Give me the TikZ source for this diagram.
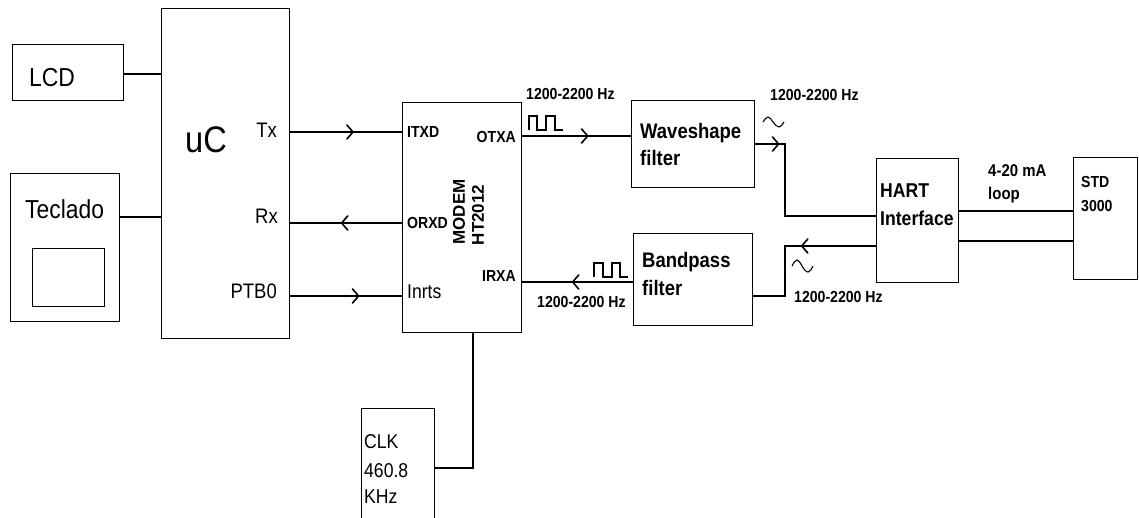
\documentclass[tikz,border=0pt]{standalone}
\usepackage{fontspec}
\setmainfont{Liberation Sans}
\newfontfamily\nf[FakeStretch=0.88]{Liberation Sans}
\usetikzlibrary{arrows.meta,decorations.markings,calc}
\newcommand{\fsz}[1]{\fontsize{#1}{#1}\selectfont}
\begin{document}
\begin{tikzpicture}[x=1pt,y=-1pt,
  box/.style={draw, line width=1.4pt, inner sep=0pt, anchor=north west},
  lbl/.style={inner sep=0pt, anchor=base west, font=\nf},
  lble/.style={inner sep=0pt, anchor=base east, font=\nf},
  wire/.style={line width=1.4pt},
  midarrow/.style={postaction={decorate}, decoration={markings,
     mark=at position #1 with {\draw[line width=1.6pt, line cap=round]
        (-6pt,-7pt) .. controls (-2pt,-2.5pt) .. (0pt,0pt)
        .. controls (-2pt,2.5pt) .. (-6pt,7pt);}}}
]
\useasboundingbox[fill=white] (0,0) rectangle (1139,517);
% boxes
\node[box, minimum width=111pt, minimum height=56pt] (lcd) at (12,44) {};
\node[box, minimum width=109pt, minimum height=148pt] (tec) at (10,173) {};
\node[box, minimum width=72pt, minimum height=58pt] (tecin) at (32,248) {};
\node[box, minimum width=128pt, minimum height=330pt] (uc) at (161,8) {};
\node[box, minimum width=119pt, minimum height=230pt] (modem) at (402,102) {};
\node[box, minimum width=123pt, minimum height=87pt] (wave) at (631,100) {};
\node[box, minimum width=119pt, minimum height=92pt] (band) at (633,233) {};
\node[box, minimum width=82pt, minimum height=124pt] (hart) at (876,158) {};
\node[box, minimum width=64pt, minimum height=122pt] (std) at (1073,157) {};
\node[box, minimum width=73pt, minimum height=114pt] (clk) at (361,408) {};
% texts
\node[lbl] (tlcd) at (29,86) {\fsz{26}LCD};
\node[lbl] (ttec) at (25,218) {\fsz{26}Teclado};
\node[lbl] (tuc) at (185,152) {\fsz{37}uC};
\node[lble] (ttx) at (277,137) {\fsz{21}Tx};
\node[lble] (trx) at (278,223) {\fsz{21}Rx};
\node[lble] (tptb) at (277,298) {\fsz{21}PTB0};
\node[lbl] (titxd) at (407,137) {\fsz{16}\bfseries ITXD};
\node[lble] (totxa) at (516,142) {\fsz{16}\bfseries OTXA};
\node[lbl] (torxd) at (407,228) {\fsz{16}\bfseries ORXD};
\node[lble] (tirxa) at (516,281) {\fsz{16}\bfseries IRXA};
\node[lbl] (tinrts) at (407,298) {\fsz{20}Inrts};
\node[inner sep=0pt, rotate=90, font=\bfseries] (tmodem) at (459,212) {\fsz{17}MODEM};
\node[inner sep=0pt, rotate=90, font=\bfseries] (tht) at (478,215) {\fsz{17}HT2012};
\node[lbl] (hz1) at (526,99) {\fsz{16}\bfseries 1200-2200 Hz};
\node[lbl] (hz2) at (537,307) {\fsz{16}\bfseries 1200-2200 Hz};
\node[lbl] (hz3) at (770,100) {\fsz{16}\bfseries 1200-2200 Hz};
\node[lbl] (hz4) at (794,302) {\fsz{16}\bfseries 1200-2200 Hz};
\node[lbl] (twave1) at (640,138) {\fsz{21}\bfseries Waveshape};
\node[lbl] (twave2) at (640,165) {\fsz{21}\bfseries filter};
\node[lbl] (tband1) at (642,267) {\fsz{21}\bfseries Bandpass};
\node[lbl] (tband2) at (642,295) {\fsz{21}\bfseries filter};
\node[lbl] (thart1) at (880,197) {\fsz{20}\bfseries HART};
\node[lbl] (thart2) at (880,225) {\fsz{20}\bfseries Interface};
\node[lbl] (tstd1) at (1081,187) {\fsz{16}\bfseries STD};
\node[lbl] (tstd2) at (1081,211) {\fsz{16}\bfseries 3000};
\node[lbl] (tloop1) at (988,176) {\fsz{17}\bfseries 4-20 mA};
\node[lbl] (tloop2) at (988,199) {\fsz{17}\bfseries loop};
\node[lbl] (tclk1) at (364,448) {\fsz{20}CLK};
\node[lbl] (tclk2) at (364,477) {\fsz{20}460.8};
\node[lbl] (tclk3) at (364,503) {\fsz{20}KHz};
% levels
\coordinate (yLcd) at (0,74);
\coordinate (yTec) at (0,217);
\coordinate (yTx) at (0,132);
\coordinate (yRx) at (0,223);
\coordinate (yPt) at (0,296);
\coordinate (yOt) at (0,136);
\coordinate (yIr) at (0,282);
\coordinate (yWo) at (0,144);
\coordinate (yHa) at (0,216);
\coordinate (yHb) at (0,246);
\coordinate (yBo) at (0,296);
\coordinate (yL1) at (0,211);
\coordinate (yL2) at (0,241);
\coordinate (yCk) at (0,468);
\coordinate (xJ) at (785,0);
\coordinate (xCk) at (473,0);
% wires
\draw[wire] (lcd.east |- yLcd) -- (uc.west |- yLcd);
\draw[wire] (tec.east |- yTec) -- (uc.west |- yTec);
\draw[wire, midarrow=0.56] (uc.east |- yTx) -- (modem.west |- yTx);
\draw[wire, midarrow=0.54] (modem.west |- yRx) -- (uc.east |- yRx);
\draw[wire, midarrow=0.61] (uc.east |- yPt) -- (modem.west |- yPt);
\draw[wire, midarrow=0.6] (modem.east |- yOt) -- (wave.west |- yOt);
\draw[wire, midarrow=0.545] (band.west |- yIr) -- (modem.east |- yIr);
\draw[wire, midarrow=0.12] (wave.east |- yWo) -- (xJ |- yWo) -- (xJ |- yHa) -- (hart.west |- yHa);
\draw[wire, midarrow=0.43] (hart.west |- yHb) -- (xJ |- yHb) -- (xJ |- yBo) -- (band.east |- yBo);
\draw[wire] (hart.east |- yL1) -- (std.west |- yL1);
\draw[wire] (hart.east |- yL2) -- (std.west |- yL2);
\draw[wire] (modem.south -| xCk) -- (xCk |- yCk) -- (clk.east |- yCk);
% waveforms
\draw[line width=1.2pt] (529,130) -- (529,116) -- (537,116) -- (537,130) -- (546,130) -- (546,116) -- (555,116) -- (555,130) -- (563,130);
\draw[line width=1.2pt] (594,277) -- (594,263) -- (603,263) -- (603,277) -- (612,277) -- (612,263) -- (620,263) -- (620,277) -- (628,277);
\draw[line width=1.1pt] (763,122) sin (768,117) cos (773,122) sin (779,127) cos (784,122);
\draw[line width=1.1pt] (792,266) sin (797,260) cos (802,266) sin (808,272) cos (813,266);
\end{tikzpicture}
\end{document}
